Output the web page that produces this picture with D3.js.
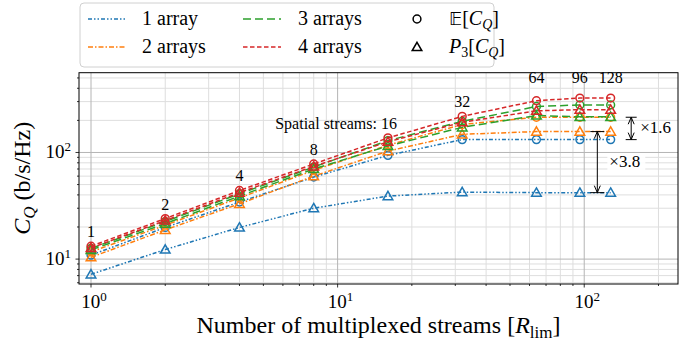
<!DOCTYPE html>
<html>
<head>
<meta charset="utf-8">
<script src="https://cdn.jsdelivr.net/npm/d3@7"></script>
<style>
body { margin: 0; background: #fff; }
svg text { font-family: "Liberation Serif", "DejaVu Serif", serif; fill: #000; }
</style>
</head>
<body>
<svg id="chart" width="699" height="343"></svg>
<script>
// data
var streams = [1, 2, 4, 8, 16, 32, 64, 96, 128];
var streamLabels = ['1', '2', '4', '8', 'Spatial streams: 16', '32', '64', '96', '128'];
var arrayNames = ['1 array', '2 arrays', '3 arrays', '4 arrays'];

// E[C_Q]
var mean1 = [10.9, 19.8, 34.3, 58.8, 94, 132, 132, 132, 132];
var mean2 = [11.7, 20.8, 37.5, 68, 117, 183, 214, 214, 214];
var mean3 = [12.6, 22.5, 41, 73, 129, 196, 270, 279, 279];
var mean4 = [13.2, 24, 44, 78, 137, 218, 306, 324, 324];
// P3[C_Q]
var p3_1 = [7.2, 12.3, 19.8, 30, 39, 42.5, 42, 42, 42];
var p3_2 = [10.4, 18.8, 33, 60, 103, 148, 157, 157, 157];
var p3_3 = [12.2, 21.5, 39, 70, 115, 172, 222, 216, 216];
var p3_4 = [12.7, 23, 42, 74, 126, 192, 246, 252, 252];

var colors = ['#1f77b4', '#ff7f0e', '#2ca02c', '#d62728'];
var dashes = ['4,2,1.5,2,1.5,2', '5,2,1.5,2', '8,4', '4.5,2.5'];

var means = [mean1, mean2, mean3, mean4];
var p3s = [p3_1, p3_2, p3_3, p3_4];

var svg = d3.select('#chart');
var pLeft = 79, pRight = 678, pTop = 72.7, pBottom = 284;

var x = d3.scaleLog().domain([0.894, 240]).range([pLeft, pRight]);
var y = d3.scaleLog().domain([5.84, 560]).range([pBottom, pTop]);

// grid
var xMinor = [], xMajor = [];
[0.1, 1, 10, 100].forEach(function(p) {
    for (var m = 1; m < 10; m++) {
        var v = m * p;
        if (v > 0.9 && v < 240) (m == 1 ? xMajor : xMinor).push(v);
    }
});
var yMinor = [], yMajor = [];
[1, 10, 100].forEach(function(p) {
    for (var m = 1; m < 10; m++) {
        var v = m * p;
        if (v > 5.9 && v < 560) (m == 1 ? yMajor : yMinor).push(v);
    }
});

var grid = svg.append('g');
grid.selectAll('.xmin').data(xMinor).join('line')
    .attr('x1', d => x(d)).attr('x2', d => x(d)).attr('y1', pTop).attr('y2', pBottom)
    .attr('stroke', '#dedede').attr('stroke-width', 1);
grid.selectAll('.ymin').data(yMinor).join('line')
    .attr('y1', d => y(d)).attr('y2', d => y(d)).attr('x1', pLeft).attr('x2', pRight)
    .attr('stroke', '#dedede').attr('stroke-width', 1);
grid.selectAll('.xmaj').data(xMajor).join('line')
    .attr('x1', d => x(d)).attr('x2', d => x(d)).attr('y1', pTop).attr('y2', pBottom)
    .attr('stroke', '#b4b4b4').attr('stroke-width', 1);
grid.selectAll('.ymaj').data(yMajor).join('line')
    .attr('y1', d => y(d)).attr('y2', d => y(d)).attr('x1', pLeft).attr('x2', pRight)
    .attr('stroke', '#b4b4b4').attr('stroke-width', 1);

// ticks
var ticks = svg.append('g').attr('stroke', '#000').attr('stroke-width', 0.8);
ticks.selectAll('.xt').data(xMajor.concat(xMinor)).join('line')
    .attr('x1', d => x(d)).attr('x2', d => x(d)).attr('y1', pBottom)
    .attr('y2', d => pBottom + (xMajor.includes(d) ? 3.5 : 2));
ticks.selectAll('.yt').data(yMajor.concat(yMinor)).join('line')
    .attr('y1', d => y(d)).attr('y2', d => y(d)).attr('x1', pLeft)
    .attr('x2', d => pLeft - (yMajor.includes(d) ? 3.5 : 2));

function powLabel(sel, exp) {
    sel.append('tspan').text('10');
    sel.append('tspan').attr('dy', -7).attr('font-size', 13).text(exp);
}
xMajor.forEach(function(v) {
    var t = svg.append('text').attr('x', x(v) + 3).attr('y', 308)
        .attr('text-anchor', 'middle').attr('font-size', 19);
    powLabel(t, Math.round(Math.log10(v)));
});
yMajor.forEach(function(v) {
    var t = svg.append('text').attr('x', 71).attr('y', y(v) + 6)
        .attr('text-anchor', 'end').attr('font-size', 19);
    powLabel(t, Math.round(Math.log10(v)));
});

// series
var line = d3.line().x((d, i) => x(streams[i])).y(d => y(d));
var tri = d3.symbol().type(d3.symbolTriangle).size(40);

for (var a = 0; a < 4; a++) {
    var g = svg.append('g');
    [means[a], p3s[a]].forEach(function(vals) {
        g.append('path').attr('d', line(vals))
            .attr('fill', 'none').attr('stroke', colors[a])
            .attr('stroke-width', 1.5).attr('stroke-dasharray', dashes[a]);
    });
    g.selectAll('.c').data(means[a]).join('circle')
        .attr('cx', (d, i) => x(streams[i])).attr('cy', d => y(d)).attr('r', 3.9)
        .attr('fill', 'none').attr('stroke', colors[a]).attr('stroke-width', 1.5);
    g.selectAll('.t').data(p3s[a]).join('path')
        .attr('d', tri)
        .attr('transform', (d, i) => `translate(${x(streams[i])},${y(d) + 0.8})`)
        .attr('fill', 'none').attr('stroke', colors[a]).attr('stroke-width', 1.5);
}

// stream labels above the top curve
var topMax = d3.max(mean4);
streamLabels.forEach(function(s, i) {
    var ly = i < 6 ? y(mean4[i]) - 9 : y(topMax) - 15;
    var t = svg.append('text').attr('y', ly).attr('font-size', 16).text(s);
    if (i == 4) t.attr('x', x(streams[i]) + 9).attr('text-anchor', 'end');
    else t.attr('x', x(streams[i])).attr('text-anchor', 'middle');
});

// ratio annotations
var last = streams.length - 1;
function bracket(xv, v1, v2, capW) {
    var xx = x(xv), y1 = y(v1), y2 = y(v2);
    var b = svg.append('g').attr('stroke', '#000').attr('stroke-width', 1);
    b.append('line').attr('x1', xx).attr('x2', xx).attr('y1', y1).attr('y2', y2);
    b.append('line').attr('x1', xx - capW).attr('x2', xx + capW).attr('y1', y1).attr('y2', y1);
    b.append('line').attr('x1', xx - capW).attr('x2', xx + capW).attr('y1', y2).attr('y2', y2);
    b.append('path').attr('d', `M${xx - 3},${y1 + 7}L${xx},${y1}L${xx + 3},${y1 + 7}`).attr('fill', 'none');
    b.append('path').attr('d', `M${xx - 3},${y2 - 7}L${xx},${y2}L${xx + 3},${y2 - 7}`).attr('fill', 'none');
    return [xx, (y1 + y2) / 2];
}
var r1 = bracket(155, mean2[last], mean1[last], 5.5);
svg.append('text').attr('x', r1[0] + 9).attr('y', r1[1] + 5).attr('font-size', 17).text('×1.6');
var r2 = bracket(113, p3_2[last], p3_1[last], 7);
svg.append('rect').attr('x', r2[0] + 10).attr('y', r2[1] - 9).attr('width', 38).attr('height', 17)
    .attr('fill', '#fff').attr('fill-opacity', 0.9);
svg.append('text').attr('x', r2[0] + 12).attr('y', r2[1] + 5).attr('font-size', 17).text('×3.8');

// frame
svg.append('rect').attr('x', pLeft).attr('y', pTop).attr('width', pRight - pLeft).attr('height', pBottom - pTop)
    .attr('fill', 'none').attr('stroke', '#000').attr('stroke-width', 1);

// axis titles
var xl = svg.append('text').attr('x', (pLeft + pRight) / 2).attr('y', 333)
    .attr('text-anchor', 'middle').attr('font-size', 24);
xl.append('tspan').text('Number of multiplexed streams [');
xl.append('tspan').attr('font-style', 'italic').text('R');
xl.append('tspan').attr('font-size', 17).attr('dy', 5).text('lim');
xl.append('tspan').attr('dy', -5).text(']');

var yl = svg.append('text').attr('transform', `translate(30,${(pTop + pBottom) / 2}) rotate(-90)`)
    .attr('text-anchor', 'middle').attr('font-size', 24);
yl.append('tspan').attr('font-style', 'italic').text('C');
yl.append('tspan').attr('font-style', 'italic').attr('font-size', 17).attr('dy', 5).text('Q');
yl.append('tspan').attr('dy', -5).text(' (b/s/Hz)');

// legend
var lg = svg.append('g');
lg.append('rect').attr('x', 80).attr('y', 3).attr('width', 414).attr('height', 64).attr('rx', 4)
    .attr('fill', '#fff').attr('fill-opacity', 0.85).attr('stroke', '#d0d0d0');
var legCols = [[88, 142], [88, 142], [243, 298], [243, 298]];
var legRows = [19, 47, 19, 47];
arrayNames.forEach(function(n, i) {
    lg.append('line').attr('x1', legCols[i][0]).attr('x2', legCols[i][0] + 38)
        .attr('y1', legRows[i]).attr('y2', legRows[i])
        .attr('stroke', colors[i]).attr('stroke-width', 1.5).attr('stroke-dasharray', dashes[i]);
    lg.append('text').attr('x', legCols[i][1]).attr('y', legRows[i] + 6).attr('font-size', 20).text(n);
});
lg.append('circle').attr('cx', 417).attr('cy', 19).attr('r', 3.9)
    .attr('fill', 'none').attr('stroke', '#000').attr('stroke-width', 1.5);
lg.append('path').attr('d', tri).attr('transform', 'translate(417,47.8)')
    .attr('fill', 'none').attr('stroke', '#000').attr('stroke-width', 1.5);
var e1 = lg.append('text').attr('x', 449).attr('y', 25).attr('font-size', 20);
e1.append('tspan').attr('font-family', 'DejaVu Sans').attr('font-size', 18).text('𝔼');
e1.append('tspan').text('[');
e1.append('tspan').attr('font-style', 'italic').text('C');
e1.append('tspan').attr('font-style', 'italic').attr('font-size', 14).attr('dy', 4).text('Q');
e1.append('tspan').attr('dy', -4).text(']');
var e2 = lg.append('text').attr('x', 449).attr('y', 53).attr('font-size', 20);
e2.append('tspan').attr('font-style', 'italic').text('P');
e2.append('tspan').attr('font-size', 14).attr('dy', 4).text('3');
e2.append('tspan').attr('dy', -4).text('[');
e2.append('tspan').attr('font-style', 'italic').text('C');
e2.append('tspan').attr('font-style', 'italic').attr('font-size', 14).attr('dy', 4).text('Q');
e2.append('tspan').attr('dy', -4).text(']');
</script>
</body>
</html>
